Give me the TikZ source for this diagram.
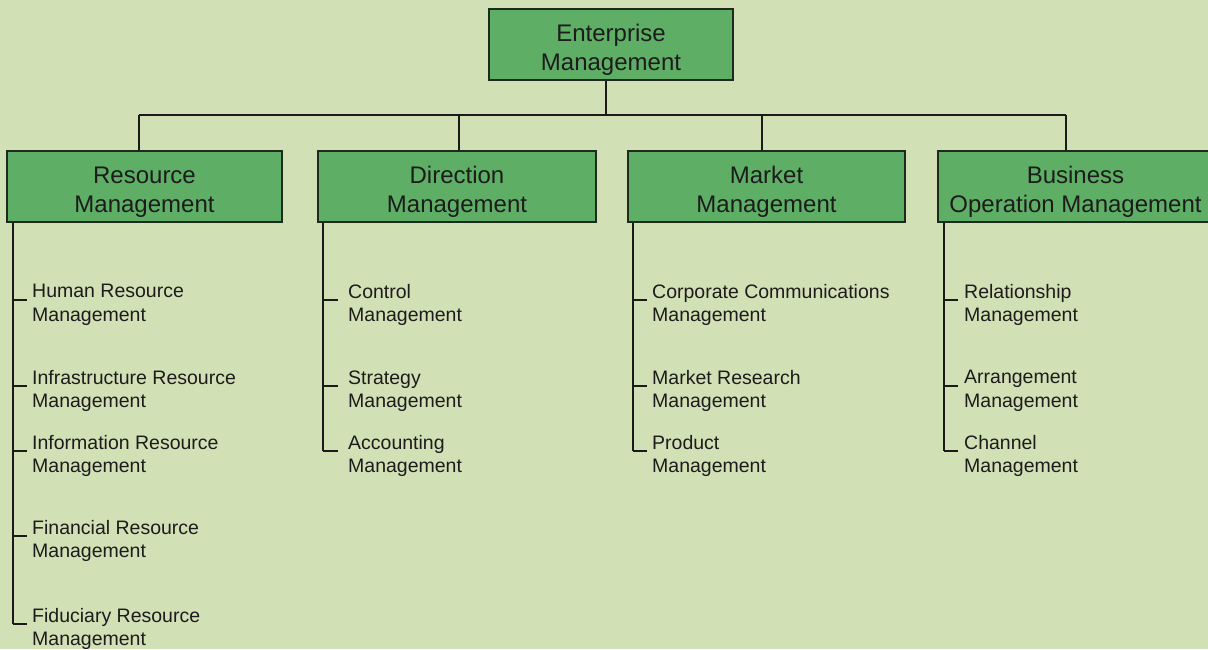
\documentclass[tikz,border=0pt]{standalone}
\usepackage{fontspec}
\setmainfont{Liberation Sans}
\definecolor{bg}{HTML}{D1E0B5}
\definecolor{boxfill}{HTML}{5EAF65}
\definecolor{boxline}{HTML}{1E2A1E}
\definecolor{txt}{HTML}{1C1C1C}
\definecolor{linec}{HTML}{1A1A1A}
\newcommand{\dropstrut}{\rule{0pt}{27.5pt}}
\begin{document}
\begin{tikzpicture}[x=1pt,y=-1pt,
  box/.style={draw=boxline, line width=1.2pt, fill=boxfill, minimum width=275pt, minimum height=71pt, align=center, font=\fontsize{24}{28.5}\selectfont, text=txt, inner sep=0pt},
  leaf/.style={anchor=west, align=left, font=\fontsize{19.5}{23.5}\selectfont, text=txt, inner sep=0pt},
  conn/.style={draw=linec, line width=1.1pt}]
\fill[bg] (0,0) rectangle (1208,649);
\useasboundingbox (0,0) rectangle (1208,649);

\node[box, minimum width=244pt] (top) at (611,44.5) {\dropstrut Enterprise\\Management};
\node[box] (res) at (144.5,186.5) {\dropstrut Resource\\Management};
\node[box, minimum width=278pt] (dir) at (457,186.5) {\dropstrut Direction\\Management};
\node[box, minimum width=277pt] (mkt) at (766.5,186.5) {\dropstrut Market\\Management};
\node[box] (bus) at (1075.5,186.5) {\dropstrut Business\\Operation Management};

\coordinate (bc) at (606,115);
\coordinate (b1) at (139,115);
\coordinate (b2) at (459,115);
\coordinate (b3) at (762,115);
\coordinate (b4) at (1066,115);
\draw[conn] (top.south -| bc) -- (bc);
\draw[conn] (b1) -- (b4);
\draw[conn] (b1) -- (b1 |- res.north);
\draw[conn] (b2) -- (b2 |- dir.north);
\draw[conn] (b3) -- (b3 |- mkt.north);
\draw[conn] (b4) -- (b4 |- bus.north);

% Resource column
\node[leaf] (r1) at (32,305) {Human Resource\\Management};
\node[leaf] (r2) at (32,391) {Infrastructure Resource\\Management};
\node[leaf] (r3) at (32,456) {Information Resource\\Management};
\node[leaf] (r4) at (32,541) {Financial Resource\\Management};
\node[leaf] (r5) at (32,629) {Fiduciary Resource\\Management};
\coordinate (rx) at (13,0);
\draw[conn] (rx |- res.south) -- ([yshift=5pt]rx |- r5.west);
\foreach \n in {r1,r2,r3,r4,r5} \draw[conn] ([yshift=5pt]rx |- \n.west) -- ([xshift=-5pt,yshift=5pt]\n.west);

% Direction column
\node[leaf] (d1) at (348,305) {Control\\Management};
\node[leaf] (d2) at (348,391) {Strategy\\Management};
\node[leaf] (d3) at (348,456) {Accounting\\Management};
\coordinate (dx) at (323,0);
\draw[conn] (dx |- dir.south) -- ([yshift=5pt]dx |- d3.west);
\foreach \n in {d1,d2,d3} \draw[conn] ([yshift=5pt]dx |- \n.west) -- ([xshift=-10pt,yshift=5pt]\n.west);

% Market column
\node[leaf] (m1) at (652,305) {Corporate Communications\\Management};
\node[leaf] (m2) at (652,391) {Market Research\\Management};
\node[leaf] (m3) at (652,456) {Product\\Management};
\coordinate (mx) at (633,0);
\draw[conn] (mx |- mkt.south) -- ([yshift=5pt]mx |- m3.west);
\foreach \n in {m1,m2,m3} \draw[conn] ([yshift=5pt]mx |- \n.west) -- ([xshift=-5pt,yshift=5pt]\n.west);

% Business column
\node[leaf] (o1) at (964,305) {Relationship\\Management};
\node[leaf] (o2) at (964,391) {Arrangement\\Management};
\node[leaf] (o3) at (964,456) {Channel\\Management};
\coordinate (ox) at (944,0);
\draw[conn] (ox |- bus.south) -- ([yshift=5pt]ox |- o3.west);
\foreach \n in {o1,o2,o3} \draw[conn] ([yshift=5pt]ox |- \n.west) -- ([xshift=-6pt,yshift=5pt]\n.west);
\end{tikzpicture}
\end{document}
